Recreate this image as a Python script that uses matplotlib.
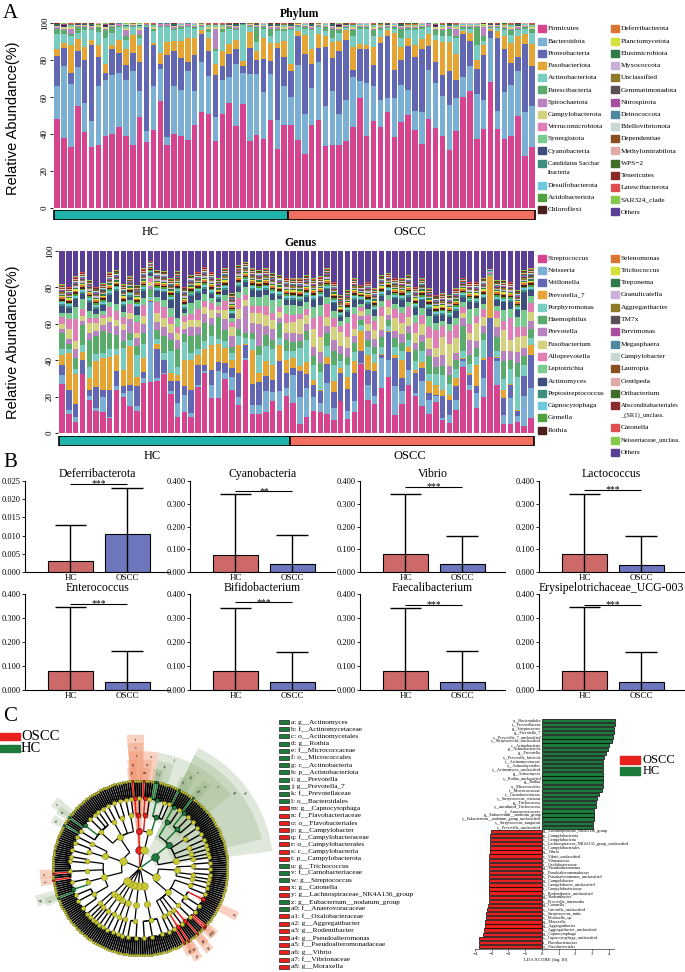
import numpy as np
import matplotlib
matplotlib.use("Agg")
import matplotlib.pyplot as plt
from matplotlib.patches import Rectangle, Wedge
from matplotlib.collections import LineCollection

plt.rcParams['font.family'] = ['Liberation Serif', 'DejaVu Serif']

W, H = 685, 972

def box(x0, y0, x1, y1):
    return [x0 / W, 1 - y1 / H, (x1 - x0) / W, (y1 - y0) / H]

# ---------------- data: panel A ----------------
n_hc, n_oscc = 34, 36

palette = ['#d6448f', '#7bafd4', '#6167b3', '#e4a535', '#78cdc0', '#5aab6c', '#b884c0',
           '#d4d17f', '#e07fb6', '#78cc90', '#3e4e7e', '#3f8f7f', '#6cc9dd', '#4fa13b',
           '#4b1f1b', '#dc7432', '#d4e03b', '#2f7a4b', '#c9b1d9', '#8e7a2a', '#5a5058',
           '#a74ea0', '#4e88a0', '#c8d8d0', '#8a4f1f', '#e2a9a9', '#3f6e2b', '#8b2a2a',
           '#e04f50', '#86c84a', '#5b3f97']

phylum_names = ['Firmicutes', 'Bacteroidota', 'Proteobacteria', 'Fusobacteriota', 'Actinobacteriota',
                'Patescibacteria', 'Spirochaetota', 'Campylobacterota', 'Verrucomicrobiota',
                'Synergistota', 'Cyanobacteria', 'Candidatus Sacchar\nibacteria', 'Desulfobacterota',
                'Acidobacteriota', 'Chloroflexi', 'Deferribacterota', 'Planctomycetota',
                'Elusimicrobiota', 'Myxococcota', 'Unclassified', 'Gemmatimonadota', 'Nitrospirota',
                'Deinococcota', 'Bdellovibrionota', 'Dependentiae', 'Methylomirabilota', 'WPS\u22122',
                'Tenericutes', 'Latescibacterota', 'SAR324_clade', 'Others']

# cumulative tops (%) read for each sample
firm_top = [48, 38, 33, 55, 41, 33, 34, 39, 40, 44, 39, 34, 49, 35.5, 42, 58, 34, 40, 39, 37,
            45, 52, 51, 36.4, 51, 57, 44.5, 56, 36.4, 39.6, 37.5, 47.7, 32, 44.7, 44.7, 37, 29, 44.7, 47.4, 33.5,
            34, 34, 36, 43.6, 59.5, 39, 47, 44, 52, 38.4, 46.5, 50, 42.3, 34.6, 48.3, 43, 38.7, 31.5, 41.4, 60,
            63, 37.5, 42.9, 68, 42.9, 37.3, 38.7, 49.5, 28, 32.8]
bact_top = [66, 77, 67, 76, 57, 47, 66, 69, 72, 73, 69, 74, 63, 41.4, 66, 75, 38.5, 66, 64, 74,
            63, 79, 71.5, 49, 69, 71, 78, 73, 72.4, 72.6, 62.7, 72.4, 47.7, 66, 60, 77.5, 51, 65, 79, 55,
            63, 51, 58.6, 71, 68.5, 67.6, 66, 58.6, 59.5, 59.5, 66.7, 64, 52.6, 52, 74.8, 67.6, 60.7, 55.5, 59.5, 71,
            76.6, 61.8, 58.2, 92, 52.3, 62.5, 66.7, 74.2, 51.7, 55]
prot_top = [82, 86.5, 73, 85, 80, 88, 81.6, 73, 86, 84, 77.5, 84, 79, 97.7, 88, 78, 82.5, 85, 81, 79,
            82.5, 94, 84.7, 71.7, 77, 83, 86, 77, 86.5, 80, 80.5, 79.6, 86.5, 81.6, 74, 92.8, 83, 78, 86.5, 87,
            81, 84.7, 91, 74.8, 86, 86, 77.5, 89, 93, 74.8, 80, 87.4, 81.4, 86, 87.7, 79, 71.7, 74, 69, 94,
            90.4, 75.3, 82.5, 95.9, 91.9, 86, 78.4, 81.4, 88.8, 76.6]
fuso_top = [86, 89, 88, 91.5, 87, 90.6, 88, 78, 88, 91, 86, 93.7, 88, 98, 89, 84, 89.7, 90.5, 90, 92,
            92, 96, 92, 78, 85, 88.6, 91, 79.6, 95, 84.7, 92, 89, 89, 90, 78, 95.5, 93.7, 86, 94, 93,
            89.7, 90.5, 96.4, 86.8, 88.6, 88, 86.8, 92.4, 96, 94.6, 87, 92, 88, 91.5, 94, 90.6, 89.5, 89.5, 83.2, 95.5,
            94.6, 79.8, 88, 96.5, 95.9, 93, 89.2, 93, 94.2, 88.8]
actino_top = [94, 94, 93, 94.6, 96, 96, 95, 92, 94.6, 97.7, 91, 98, 92, 98.5, 95.5, 97.7, 97.7, 96, 97, 97.7,
              97, 98, 95, 84.7, 95, 97, 96, 99, 98, 89.7, 97, 93, 95.5, 95.5, 96, 98, 97, 96, 98, 95.5,
              92, 94.6, 97.5, 92.8, 97, 97, 92.8, 96.4, 97.5, 97, 92, 96.4, 96.4, 97, 97.7, 93.7, 92.8, 92.8, 92, 97,
              97, 88.3, 90.4, 97.5, 97.3, 96.4, 93.7, 96, 96.9, 94.6]
pates_top = [97, 96, 94, 98, 98, 97, 97.6, 96, 98, 98.3, 93, 98.5, 93.7, 99, 96.5, 98.3, 98.3, 97, 97.8, 98.3,
             97.8, 98.5, 96.5, 86, 96.5, 98, 97, 99.3, 98.5, 98, 97.8, 97, 97, 96.5, 97, 98.5, 97.8, 97, 98.5, 97.7,
             97, 96, 98, 96.4, 97.8, 97.8, 96.4, 97.3, 98, 97.8, 97, 97.3, 97.3, 97.8, 98.3, 96, 96.4, 97, 93, 97.8,
             97.8, 97.7, 92.8, 98, 98, 97.3, 96.4, 97, 97.7, 96.5]
spiro_top = [97.6, 96.6, 97, 98.5, 98.5, 97.6, 98.1, 96.6, 98.5, 98.8, 96, 99, 96, 99.3, 97, 98.8, 98.8, 97.6, 98.3, 98.8,
             98.3, 99, 97, 97, 97, 98.5, 97.6, 99.5, 99, 98.5, 98.3, 97.6, 97.6, 97, 97.6, 99, 98.3, 97.6, 99, 98.2,
             97.6, 96.6, 98.5, 97, 98.3, 98.3, 97, 97.8, 98.5, 98.3, 97.6, 97.8, 97.8, 98.3, 98.8, 96.6, 97, 97.6, 97, 98.3,
             98.3, 98.2, 97.7, 98.5, 98.5, 97.8, 97, 97.6, 98.2, 97]
# share of the small remaining phyla (Campylobacterota ... Others)
phylum_rest_share = [0.30, 0.06, 0.07, 0.03, 0.06, 0.05, 0.02, 0.02, 0.03, 0.02, 0.02, 0.03,
                     0.03, 0.02, 0.01, 0.02, 0.02, 0.02, 0.03, 0.02, 0.02, 0.02, 0.02, 0.06]

genus_names = ['Streptococcus', 'Neisseria', 'Veillonella', 'Prevotella_7', 'Porphyromonas', 'Haemophilus',
               'Prevotella', 'Fusobacterium', 'Alloprevotella', 'Leptotrichia', 'Actinomyces',
               'Peptostreptococcus', 'Capnocytophaga', 'Gemella', 'Rothia', 'Selenomonas', 'Trichococcus',
               'Treponema', 'Granulicatella', 'Aggregatibacter', 'TM7x', 'Parvimonas', 'Megasphaera',
               'Campylobacter', 'Lautropia', 'Centipeda', 'Oribacterium',
               'Absconditabacteriales\n_(SR1)_unclass.', 'Catonella', 'Neisseriaceae_unclass.', 'Others']

strep_top = [26.9, 10.6, 6.2, 32.5, 17.9, 11.9, 11.3, 8.2, 23.8, 19.7, 14.8, 11.9, 27.4, 28.0, 28.3, 32.5, 21.6, 8.6, 11.5, 9.0,
             25.4, 33.1, 19.2, 19.2, 29.6, 23.6, 15.5, 40.2, 10.4, 10.4, 11.5, 17.4, 12.2, 20.5, 16.3, 4.9, 8.6, 11.9, 11.3, 10.6,
             6.9, 17.4, 7.9, 11.5, 37.8, 18.3, 16.1, 25.0, 30.5, 9.7, 16.1, 26.1, 20.1, 15.0, 10.6, 16.8, 7.3, 5.5, 12.4, 36.2,
             23.8, 13.7, 19.6, 41.5, 26.5, 5.1, 5.1, 6.0, 4.0, 8.2]
neis_top = [31.6, 12.4, 8.6, 32.5, 20.1, 14, 19.6, 8.8, 26, 22, 22.9, 14.6, 30.2, 72.2, 30, 33, 22.9, 16.5, 21, 11,
            26.5, 34, 26.5, 33.8, 32.9, 30.9, 19.6, 41, 15.5, 15.2, 22.9, 22.5, 22.9, 24.7, 32, 19.6, 25, 19.6, 16.5, 27.4,
            13.7, 17.7, 12.2, 17.4, 38.5, 26.5, 20.1, 41.1, 40.2, 25.6, 22.9, 34.7, 21.9, 28.3, 18.3, 20.1, 8.2, 10, 18.3, 39.7,
            26.5, 21.9, 30.2, 42, 39.3, 10, 19.2, 9.1, 20.1, 24.7]
veil_top = [37.1, 23.4, 16.1, 40.2, 23.8, 25.2, 23.4, 23.4, 33.8, 25.6, 26.5, 25.6, 33.3, 72.5, 46.3, 39.9, 28.3, 28.3, 25.6, 23.8,
            37.5, 37.1, 34.7, 39, 38.4, 35.6, 32.9, 48.4, 26.9, 28, 31.4, 29.3, 39.3, 32.9, 35.6, 33.8, 32.5, 26.1, 22.9, 37.8,
            22.5, 32.9, 24.3, 32.9, 44.8, 34.7, 33.8, 43, 55.4, 41.1, 30.2, 44.4, 32.9, 35.6, 21.9, 21, 20.1, 18.3, 25.6, 40.5,
            32, 26, 40.2, 63, 41.1, 19.2, 26.5, 11.9, 31.1, 43]
prev7_top = [43, 43.9, 32.4, 44.4, 30.2, 39.3, 41.1, 42, 43, 34.7, 47.9, 31, 41.1, 73, 48.8, 40.2, 32.9, 32, 40.2, 40.2,
             43, 46.3, 48.4, 48.8, 46.6, 40.2, 48.4, 49, 45.7, 32.9, 39.7, 37.1, 48.4, 40.2, 41.1, 36.6, 38.9, 29.3, 23.5, 42,
             28.3, 35.6, 30.5, 39.3, 56.1, 43, 38.4, 43.5, 56, 43, 40.2, 47, 34.7, 38.9, 28.3, 26.5, 23.8, 21, 30.2, 41,
             33, 37.5, 41, 86.5, 42, 23.8, 27, 12.5, 31.5, 48.4]
porphyromonas = [3, 2, 3, 4, 6, 4, 3, 4, 3, 12, 3, 12, 8, 2, 3, 4, 12, 4, 10, 4, 3, 4, 5, 3, 4, 4, 5, 3, 6, 10,
                 8, 9, 4, 5, 4, 10, 12, 8, 10, 6, 9, 4, 7, 5, 3, 4, 5, 4, 3, 4, 5, 4, 5, 6, 4, 6, 8, 6, 5, 4,
                 5, 4, 10, 0.5, 3, 6, 8, 18, 6, 4]
haemophilus = [9, 3, 6, 11, 15, 10, 12, 9, 8, 4, 4, 5, 6, 4, 5, 9, 6, 10, 4, 9, 8, 10, 6, 12, 6, 3, 4, 3, 3, 5,
               6, 5, 8, 6, 5, 4, 5, 5, 5, 7, 8, 4, 4, 5, 3, 4, 4, 5, 3, 5, 4, 4, 6, 5, 10, 4, 5, 5, 5, 14,
               5, 5, 4, 0.5, 8, 10, 5, 8, 5, 5]
prevotella = [2, 3, 5, 2, 4, 3, 3, 6, 5, 6, 8, 4, 5, 2, 4, 5, 4, 5, 3, 5, 4, 5, 4, 2, 6, 6, 5, 15, 6, 12,
              5, 6, 3, 4, 5, 4, 4, 5, 6, 4, 6, 4, 5, 4, 2, 5, 4, 4, 3, 4, 5, 4, 4, 4, 4, 5, 6, 5, 4, 4,
              8, 4, 4, 0.3, 5, 5, 5, 6, 4, 4]
fusobacterium = [3, 5, 4, 3, 5, 4, 4, 3, 3, 3, 3, 3, 4, 2, 5, 5, 5, 4, 4, 4, 4, 4, 4, 2, 5, 5, 6, 3, 5, 6,
                 6, 5, 3, 5, 6, 8, 5, 10, 8, 5, 7, 8, 6, 4, 3, 4, 5, 8, 4, 7, 6, 5, 5, 6, 6, 5, 10, 12, 8, 3,
                 4, 10, 5, 0.3, 5, 12, 6, 8, 7, 5]
alloprevotella = [4, 6, 12, 4, 3, 3, 2, 5, 5, 4, 5, 6, 6, 2, 6, 6, 4, 3, 3, 3, 6, 3, 4, 2, 5, 3, 6, 3, 4, 4,
                  5, 4, 3, 5, 4, 3, 3, 6, 12, 7, 5, 3, 8, 8, 2, 5, 5, 5, 4, 5, 6, 5, 6, 5, 6, 10, 6, 7, 7, 3,
                  5, 4, 4, 0.2, 4, 5, 12, 6, 5, 5]
leptotrichia = [2, 3, 7, 5, 4, 2, 2, 3, 4, 3, 2, 4, 4, 1, 3, 4, 5, 5, 2, 6, 5, 4, 3, 2, 3, 2, 3, 4, 5, 5,
                6, 7, 4, 5, 5, 4, 4, 6, 6, 4, 4, 3, 3, 4, 2, 3, 3, 3, 3, 3, 3, 3, 4, 4, 6, 4, 3, 4, 4, 3,
                8, 4, 3, 0.1, 3, 6, 5, 5, 9, 4]
actinomyces = [4, 3, 4, 3, 5, 3, 3, 4, 7, 3, 2, 4, 4, 2, 3, 4, 4, 14, 2, 4, 4, 3, 2, 2, 3, 2, 3, 3, 4, 3,
               3, 3, 2, 3, 3, 3, 3, 4, 4, 4, 4, 2, 3, 4, 2, 3, 3, 3, 2, 3, 4, 3, 4, 4, 4, 4, 3, 4, 4, 3,
               4, 3, 3, 0.1, 3, 4, 4, 4, 10, 3]
others_bottom = [81.7, 80.4, 86, 88.7, 84, 80.4, 82.3, 88.3, 89.6, 81.7, 86, 81.4, 90.5, 94.5, 89.6, 89, 85, 89, 80.4, 86.8,
                 88.7, 91.4, 88.7, 85, 90.5, 76.8, 92.3, 94, 90.5, 89.6, 90.5, 87.8, 86.8, 85.4, 85, 85, 86.8, 85, 86, 90.5,
                 83.2, 75.9, 78.6, 85, 81.4, 83.2, 79.5, 86.8, 87.8, 85.4, 85, 86.8, 80.4, 85, 79.5, 75.9, 76.8, 75.9, 79.5, 85.4,
                 83.2, 83.2, 85, 90.1, 84, 84, 83.2, 78.6, 89.6, 90.5]
# share of the minor genera (Peptostreptococcus ... Neisseriaceae_unclass.)
genus_minor_share = [0.08, 0.09, 0.07, 0.08, 0.07, 0.06, 0.06, 0.06, 0.06, 0.05, 0.04, 0.04,
                     0.04, 0.04, 0.04, 0.03, 0.04, 0.03, 0.03]

# ---------------- data: panel B ----------------
b_taxa = ['Deferribacterota', 'Cyanobacteria', 'Vibrio', 'Lactococcus',
          'Enterococcus', 'Bifidobacterium', 'Faecalibacterium', 'Erysipelotrichaceae_UCG-003']
b_hc_mean = [0.003, 0.075, 0.078, 0.077, 0.080, 0.078, 0.080, 0.078]
b_oscc_mean = [0.0105, 0.033, 0.033, 0.032, 0.035, 0.033, 0.035, 0.033]
b_hc_err = [0.013, 0.343, 0.342, 0.342, 0.345, 0.342, 0.343, 0.344]
b_oscc_err = [0.023, 0.162, 0.160, 0.158, 0.162, 0.160, 0.162, 0.160]
b_bracket = [0.0242, 0.355, 0.375, 0.36, 0.36, 0.365, 0.355, 0.355]
b_stars = ['***', '**', '***', '***', '***', '***', '***', '***']
b_ymax = [0.025, 0.4, 0.4, 0.4, 0.4, 0.4, 0.4, 0.4]

# ---------------- data: panel C ----------------
green_taxa = ['o__Bacteroidales', 'f__Prevotellaceae', 'g__Streptococcus', 'g__Prevotella_7',
              's__Prevotella_7_unclassified', 's__Streptococcus_unclassified', 'c__Actinobacteria',
              'p__Actinobacteriota', 'g__Prevotella', 's__Prevotella_histicola', 'f__Actinomycetaceae',
              'o__Actinomycetales', 's__Actinomyces_unclassified', 'g__Actinomyces', 's__Rothia_unclassified',
              'g__Rothia', 'o__Micrococcales', 'f__Micrococcaceae', 'f__Carnobacteriaceae',
              's__Streptococcus_cristatus', 'g__Trichococcus', 's__uncultured_Trichococcus',
              'f__Anaerovoracaceae', 'g__Eubacterium__nodatum_group',
              's__Eubacterium__nodatum_group_unclassified', 's__Streptococcus_sanguinis',
              's__Prevotella_unclassified']
green_lda = [4.38, 4.34, 4.28, 4.28, 4.24, 4.18, 3.98, 3.92, 3.84, 3.68, 3.64, 3.64, 3.64, 3.64,
             3.64, 3.64, 3.64, 3.58, 3.38, 3.28, 3.24, 3.24, 3.08, 3.08, 3.08, 3.04, 3.04]
red_taxa = ['g__Lachnospiraceae_NK4A136_group', 'p__Campylobacterota', 'c__Campylobacteria',
            's__Lachnospiraceae_NK4A136_group_unclassified', 'o__Campylobacterales', 'g__Vibrio',
            's__Vibrio_unclassified', 'f__Vibrionaceae', 'f__Oxalobacteraceae', 'g__Pseudoalteromonas',
            'f__Pseudoalteromonadaceae', 's__Pseudoalteromonas_unclassified', 'g__Campylobacter',
            's__Campylobacter_unclassified', 'f__Campylobacteraceae', 's__Rodentibacter_unclassified',
            'g__Rodentibacter', 's__Prevotella_intermedia', 'g__Catonella', 's__Catonella_unclassified',
            's__Streptococcus_mitis', 's__Moraxella_sp.', 'g__Moraxella', 'g__Aggregatibacter',
            's__Aggregatibacter_unclassified', 'g__Capnocytophaga', 's__Capnocytophaga_unclassified',
            'f__Flavobacteriaceae', 'o__Flavobacteriales']
red_lda = [-3.02, -3.08, -3.08, -3.08, -3.12, -3.12, -3.14, -3.14, -3.14, -3.14, -3.14, -3.14,
           -3.14, -3.14, -3.16, -3.16, -3.18, -3.18, -3.24, -3.28, -3.32, -3.34, -3.38, -3.42,
           -3.48, -3.52, -3.78, -3.78, -3.78]

clade_keys = ['a', 'b', 'c', 'd', 'e', 'f', 'g', 'h', 'i', 'j', 'k', 'l', 'm', 'n', 'o', 'p', 'q', 'r',
              's', 't', 'u', 'v', 'w', 'x', 'y', 'z', 'a0', 'a1', 'a2', 'a3', 'a4', 'a5', 'a6', 'a7', 'a8']
clade_names = ['g__Actinomyces', 'f__Actinomycetaceae', 'o__Actinomycetales', 'g__Rothia',
               'f__Micrococcaceae', 'o__Micrococcales', 'c__Actinobacteria', 'p__Actinobacteriota',
               'g__Prevotella', 'g__Prevotella_7', 'f__Prevotellaceae', 'o__Bacteroidales',
               'g__Capnocytophaga', 'f__Flavobacteriaceae', 'o__Flavobacteriales', 'g__Campylobacter',
               'f__Campylobacteraceae', 'o__Campylobacterales', 'c__Campylobacteria', 'p__Campylobacterota',
               'g__Trichococcus', 'f__Carnobacteriaceae', 'g__Streptococcus', 'g__Catonella',
               'g__Lachnospiraceae_NK4A136_group', 'g__Eubacterium__nodatum_group', 'f__Anaerovoracaceae',
               'f__Oxalobacteraceae', 'g__Aggregatibacter', 'g__Rodentibacter', 'g__Pseudoalteromonas',
               'f__Pseudoalteromonadaceae', 'g__Vibrio', 'f__Vibrionaceae', 'g__Moraxella']
clade_group = ['HC'] * 12 + ['OSCC'] * 8 + ['HC'] * 3 + ['OSCC'] * 2 + ['HC'] * 2 + ['OSCC'] * 8

# taxonomy tree: phylum -> classes -> orders -> families (number of genera)
tree = [
    ('Campylobacterota', [[[2, 3]]]),
    ('Bacteroidota', [[[3, 2], [6, 3, 2]]]),
    ('Actinobacteriota', [[[4, 3], [3, 4, 3], [5, 3], [4, 2], [3]], [[2, 2]]]),
    ('Proteobacteria', [[[4, 3], [3, 2], [2]], [[4, 3], [3, 5, 3], [5], [2, 3], [2], [3, 3]]]),
    ('Fusobacteriota', [[[5, 6, 3]]]),
    ('Spirochaetota', [[[6, 3]]]),
    ('Patescibacteria', [[[3, 2], [4]], [[3, 2]]]),
    ('Synergistota', [[[3, 2]]]),
    ('Desulfobacterota', [[[2, 2], [3]]]),
    ('Firmicutes', [[[5, 4, 3], [4, 4], [8], [3, 2]], [[5, 4], [3]],
                    [[4, 4, 5, 2, 3], [3, 3], [4, 3], [4, 2]]]),
]
clade_paths = {
    'a': (2, 0, 0, 0, 0), 'b': (2, 0, 0, 0), 'c': (2, 0, 0), 'd': (2, 0, 1, 0, 0), 'e': (2, 0, 1, 0),
    'f': (2, 0, 1), 'g': (2, 0), 'h': (2,), 'i': (1, 0, 1, 0, 0), 'j': (1, 0, 1, 0, 1), 'k': (1, 0, 1, 0),
    'l': (1, 0, 1), 'm': (1, 0, 0, 0, 0), 'n': (1, 0, 0, 0), 'o': (1, 0, 0), 'p': (0, 0, 0, 0, 0),
    'q': (0, 0, 0, 0), 'r': (0, 0, 0), 's': (0, 0), 't': (0,), 'u': (9, 2, 0, 1, 0), 'v': (9, 2, 0, 1),
    'w': (9, 2, 0, 0, 0), 'x': (9, 0, 2, 0, 3), 'y': (9, 0, 2, 0, 0), 'z': (9, 0, 1, 0, 0),
    'a0': (9, 0, 1, 0), 'a1': (3, 1, 1, 0), 'a2': (3, 1, 2, 0, 0), 'a3': (3, 1, 2, 0, 1),
    'a4': (3, 1, 3, 0, 0), 'a5': (3, 1, 3, 0), 'a6': (3, 1, 4, 0, 0), 'a7': (3, 1, 4, 0), 'a8': (3, 1, 5, 0, 0),
}

hc_col, oscc_col = '#1fb3a9', '#ef6f61'
green, red = '#1c7a3a', '#e8201e'

fig = plt.figure(figsize=(W / 100, H / 100), dpi=100)
ov = fig.add_axes([0, 0, 1, 1])
ov.set_xlim(0, W)
ov.set_ylim(H, 0)
ov.axis('off')


def style_stack(ax):
    ax.set_xlim(-0.6, n_hc + n_oscc - 0.4)
    ax.set_ylim(0, 100)
    for s in ax.spines.values():
        s.set_visible(False)
    ax.set_xticks([])
    ax.set_yticks([0, 20, 40, 60, 80, 100])
    ax.set_yticklabels(['0', '20', '40', '60', '80', '100'], rotation=90, va='center', fontsize=6.5)
    ax.tick_params(axis='y', length=2, width=0.6, pad=1)


def draw_stack(ax, layers):
    x = np.arange(n_hc + n_oscc)
    bottom = np.zeros(len(x))
    for vals, c in zip(layers, palette):
        ax.bar(x, vals, 0.8, bottom=bottom, color=c, linewidth=0)
        bottom = bottom + vals


def group_bar(x0, y0, x1, y1):
    g = fig.add_axes(box(x0, y0, x1, y1))
    g.bar((n_hc - 1) / 2, 1, width=n_hc, color=hc_col, edgecolor='black', linewidth=1.2)
    g.bar(n_hc + (n_oscc - 1) / 2, 1, width=n_oscc, color=oscc_col, edgecolor='black', linewidth=1.2)
    g.set_xlim(-0.6, n_hc + n_oscc - 0.4)
    g.set_ylim(0, 1)
    g.axis('off')


def legend_block(names, x_sq, y_first, step):
    y = y_first
    for name, c in zip(names, palette):
        fs = 5.3 if len(name) < 20 else 4.7
        ov.add_patch(Rectangle((x_sq, y - 3.5), 8, 7, color=c))
        ov.text(x_sq + 10, y, name.split('\n')[0], fontsize=fs, va='center')
        if '\n' in name:
            y += step * 0.8
            ov.text(x_sq + 10, y, name.split('\n')[1], fontsize=fs, va='center')
        y += step
        if name == names[14]:
            y = y_first
            x_sq += 73


# ---------------- panel A: phylum ----------------
tops = np.array([firm_top, bact_top, prot_top, fuso_top, actino_top, pates_top, spiro_top])
ph_main = np.diff(np.vstack([np.zeros(tops.shape[1]), tops]), axis=0)
share = np.array(phylum_rest_share) / np.sum(phylum_rest_share)
ph_rest = np.outer(share, 100 - tops[-1])
axp = fig.add_axes(box(53, 23, 536, 208))
draw_stack(axp, list(ph_main) + list(ph_rest))
style_stack(axp)
group_bar(53, 210, 536, 220)
ov.text(300, 14, 'Phylum', fontsize=8.5, fontweight='bold', ha='center', va='center')
ov.text(150, 232, 'HC', fontsize=9, ha='center', va='center')
ov.text(410, 232, 'OSCC', fontsize=9, ha='center', va='center')
legend_block(phylum_names, 538, 29, 12.2)

# ---------------- panel A: genus ----------------
gtops = np.array([strep_top, neis_top, veil_top, prev7_top])
g_main = np.diff(np.vstack([np.zeros(gtops.shape[1]), gtops]), axis=0)
g_mid = np.array([porphyromonas, haemophilus, prevotella, fusobacterium, alloprevotella,
                  leptotrichia, actinomyces], dtype=float)
minor_total = np.clip(np.array(others_bottom) - gtops[-1] - g_mid.sum(axis=0), 0.3, None)
gshare = np.array(genus_minor_share) / np.sum(genus_minor_share)
g_minor = np.outer(gshare, minor_total)
g_others = 100 - np.array(others_bottom)
axg = fig.add_axes(box(58, 251, 535, 433))
draw_stack(axg, list(g_main) + list(g_mid) + list(g_minor) + [g_others])
style_stack(axg)
group_bar(58, 436, 535, 446)
ov.text(300, 243, 'Genus', fontsize=8.5, fontweight='bold', ha='center', va='center')
ov.text(152, 456, 'HC', fontsize=9, ha='center', va='center')
ov.text(410, 456, 'OSCC', fontsize=9, ha='center', va='center')
legend_block(genus_names, 538, 258, 12.3)

for yc in (118, 342):
    ov.text(13, yc, 'Relative Abundance(%)', rotation=90, fontsize=10.5, ha='center', va='center',
            family=['Liberation Sans', 'DejaVu Sans'])

ov.text(3, 14, 'A', fontsize=15, va='center')
ov.text(3, 462, 'B', fontsize=15, va='center')
ov.text(3, 716, 'C', fontsize=15, va='center')

# ---------------- panel B ----------------
xs_left = [25, 190, 360, 539]
rows = [(481, 572), (594, 690)]
for i, taxon in enumerate(b_taxa):
    y0, y1 = rows[i // 4]
    x0 = xs_left[i % 4]
    ax = fig.add_axes(box(x0, y0, x0 + 145, y1))
    ax.bar([0, 1], [b_hc_mean[i], b_oscc_mean[i]], 0.8, color=['#cd6a69', '#6e77bd'],
           edgecolor='black', linewidth=0.8, zorder=2)
    for xb, top in ((0, b_hc_err[i]), (1, b_oscc_err[i])):
        ax.vlines(xb, 0, top, color='black', linewidth=1, zorder=3)
        ax.hlines(top, xb - 0.28, xb + 0.28, color='black', linewidth=1, zorder=3)
    ax.hlines(b_bracket[i], 0, 1, color='black', linewidth=0.8)
    ax.text(0.5, b_bracket[i], b_stars[i], ha='center', va='center', fontsize=7)
    ax.set_xlim(-0.8, 1.75)
    ax.set_ylim(0, b_ymax[i])
    ax.set_yticks(np.linspace(0, b_ymax[i], 6 if b_ymax[i] < 0.1 else 5))
    ax.yaxis.set_major_formatter(matplotlib.ticker.FormatStrFormatter('%.3f'))
    ax.tick_params(axis='y', labelsize=6, length=2, width=0.6, pad=1)
    ax.set_xticks([0, 1])
    ax.set_xticklabels(['HC', 'OSCC'], fontsize=6.5)
    ax.tick_params(axis='x', length=0, pad=1.5)
    ax.spines['top'].set_visible(False)
    ax.spines['right'].set_visible(False)
    ax.spines['left'].set_linewidth(0.8)
    ax.spines['bottom'].set_linewidth(0.8)
    ax.patch.set_alpha(0)
    ax.set_title(taxon, fontsize=8.5, pad=-5 if i >= 4 else 3)

# ---------------- panel C: cladogram ----------------
R = 92.0
radii = [0, 0.2 * R, 0.4 * R, 0.58 * R, 0.76 * R, 0.95 * R]
node_leaves = {(): []}
idx = 0
for pi, (pname, classes) in enumerate(tree):
    for ci, orders in enumerate(classes):
        for oi, fams in enumerate(orders):
            for fi, ng in enumerate(fams):
                for gi in range(ng):
                    path = (pi, ci, oi, fi, gi)
                    for d in range(0, 6):
                        node_leaves.setdefault(path[:d], []).append(idx)
                    idx += 1
n_leaf = idx
step = 360.0 / n_leaf
start = 95.0


def leaf_ang(i):
    return start - i * step


def node_ang(p):
    lv = node_leaves[p]
    return (leaf_ang(min(lv)) + leaf_ang(max(lv))) / 2


def pol(r, a):
    t = np.deg2rad(a)
    return r * np.cos(t), r * np.sin(t)


hl_color = {}
for key, grp in zip(clade_keys, clade_group):
    hl_color[clade_paths[key]] = green if grp == 'HC' else red

axc = fig.add_axes(box(0, 728, 280, 972))
axc.set_xlim(-140, 140)
axc.set_ylim(-104, 140)
axc.set_aspect('equal')
axc.axis('off')

# shaded sectors
for key, grp in zip(clade_keys, clade_group):
    p = clade_paths[key]
    d = len(p)
    lv = node_leaves[p]
    a_hi = leaf_ang(min(lv)) + step / 2
    a_lo = leaf_ang(max(lv)) - step / 2
    if a_hi - a_lo < 5:
        mid = (a_hi + a_lo) / 2
        a_lo, a_hi = mid - 2.5, mid + 2.5
    outer = R * (1.0 + 0.09 * (6 - d))
    inner = radii[d] - 4
    fc = '#8fae7a' if grp == 'HC' else '#f29a78'
    axc.add_patch(Wedge((0, 0), outer, a_lo, a_hi, width=outer - inner, facecolor=fc,
                        alpha=0.28 if grp == 'HC' else 0.45, linewidth=0, zorder=0))
    xt, yt = pol(outer - 5, (a_lo + a_hi) / 2)
    axc.text(xt, yt, key, fontsize=3, ha='center', va='center', rotation=(a_lo + a_hi) / 2 - 90, zorder=5)

segs, cols, lws = [], [], []
for p in node_leaves:
    if len(p) == 0:
        continue
    d = len(p)
    a = node_ang(p)
    segs.append([pol(radii[d - 1], a), pol(radii[d], a)])
    c = hl_color.get(p, 'black')
    cols.append(c)
    lws.append(1.1 if c != 'black' else [0.9, 0.9, 0.9, 1.0, 1.3][d - 1])
    # arc at the parent radius from parent angle to child angle
    if d > 1:
        pa = node_ang(p[:-1])
        arc = np.linspace(pa, a, 12)
        segs.append([pol(radii[d - 1], t) for t in arc])
        cols.append('black')
        lws.append(1.2 if d >= 4 else 0.9)
axc.add_collection(LineCollection(segs, colors=cols, linewidths=lws, zorder=2))

sizes = [2.5, 5.5, 4.5, 3.6, 3.0, 1.8]
for p in node_leaves:
    d = len(p)
    a = node_ang(p) if d else 0
    x, y = pol(radii[d], a)
    c = hl_color.get(p, '#c8c832')
    axc.scatter([x], [y], s=sizes[d] ** 2, color=c, edgecolors='#6e6e1a' if c == '#c8c832' else 'black',
                linewidths=0.3, zorder=4)

ov.add_patch(Rectangle((0, 733), 20, 7, color=red))
ov.text(21, 736.5, 'OSCC', fontsize=10.5, va='center')
ov.add_patch(Rectangle((0, 745), 20, 7, color=green))
ov.text(21, 748.5, 'HC', fontsize=10.5, va='center')

# legend list of clades
for i, (k, nm, grp) in enumerate(zip(clade_keys, clade_names, clade_group)):
    y = 722 + i * 7.2
    ov.add_patch(Rectangle((279, y - 2), 10, 4, facecolor=green if grp == 'HC' else red,
                           edgecolor='black', linewidth=0.4))
    ov.text(291, y, f'{k}: {nm}', fontsize=5.2, va='center')

# ---------------- panel C: LDA bars ----------------
axl = fig.add_axes(box(471.6, 718, 619, 949))
lda_vals = green_lda + red_lda
lda_names = green_taxa + red_taxa
n_l = len(lda_vals)
ypos = np.arange(n_l)[::-1]
axl.barh(ypos, lda_vals, 0.8, color=[green] * len(green_lda) + [red] * len(red_lda),
         edgecolor='black', linewidth=0.5)
for yv, v, nm in zip(ypos, lda_vals, lda_names):
    if v > 0:
        axl.text(-0.05, yv, nm, fontsize=3, ha='right', va='center')
    else:
        axl.text(0.05, yv, nm, fontsize=3, ha='left', va='center')
axl.set_xlim(-4.2, 4.6)
axl.set_ylim(-0.6, n_l - 0.4)
axl.set_yticks([])
axl.set_xticks(range(-4, 5))
axl.tick_params(axis='x', labelsize=3.5, length=1.5, width=0.4, pad=1)
for s in ('left', 'right', 'top'):
    axl.spines[s].set_visible(False)
axl.spines['bottom'].set_linewidth(0.4)
axl.spines['bottom'].set_bounds(-4, 4.3)
axl.set_xlabel('LDA SCORE (log 10)', fontsize=3.5, labelpad=1)
axl.patch.set_alpha(0)

ov.add_patch(Rectangle((620, 756), 20, 8, color=red))
ov.text(643, 760, 'OSCC', fontsize=9, va='center')
ov.add_patch(Rectangle((620, 767), 20, 8, color=green))
ov.text(643, 771, 'HC', fontsize=9, va='center')

fig.savefig('out.png', dpi=100)
